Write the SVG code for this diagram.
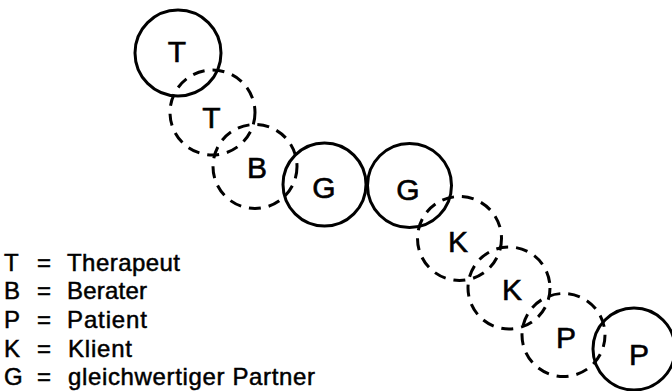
<svg xmlns="http://www.w3.org/2000/svg" width="672" height="391" viewBox="0 0 672 391">
<style>
.solid{fill:none;stroke:#000;stroke-width:3}
.dash{fill:none;stroke:#000;stroke-width:3;stroke-dasharray:12 8}
.lbl{font-family:"Liberation Sans",Arial,sans-serif;font-size:30px;text-anchor:middle;fill:#000;stroke:#000;stroke-width:0.6}
.leg{font-family:"Liberation Sans",Arial,sans-serif;font-size:24px;fill:#000;stroke:#000;stroke-width:0.5}
</style>
<rect width="672" height="391" fill="#fff"/>
<g id="connectors"></g>
<g id="T1"><circle class="solid" cx="178" cy="53" r="43"/><text class="lbl" x="177" y="62">T</text></g>
<g id="T2"><circle class="dash" cx="212.5" cy="112.5" r="42.5"/><text class="lbl" x="211.5" y="128">T</text></g>
<g id="B"><circle class="dash" cx="255" cy="166.5" r="42"/><text class="lbl" x="257" y="178">B</text></g>
<g id="G1"><circle class="solid" cx="324.5" cy="184.5" r="41.5"/><text class="lbl" x="324" y="198">G</text></g>
<g id="G2"><circle class="solid" cx="409.5" cy="185.5" r="42"/><text class="lbl" x="408" y="200">G</text></g>
<g id="K1"><circle class="dash" cx="459.5" cy="238.5" r="42"/><text class="lbl" x="458" y="252">K</text></g>
<g id="K2"><circle class="dash" cx="509" cy="288" r="41"/><text class="lbl" x="512" y="300">K</text></g>
<g id="P1"><circle class="dash" cx="563.5" cy="335" r="41.5"/><text class="lbl" x="566" y="348">P</text></g>
<g id="P2"><circle class="solid" cx="634" cy="349" r="41"/><text class="lbl" x="639" y="365">P</text></g>
<g id="legend">
<text class="leg" x="4" y="271">T</text><text class="leg" x="37" y="271">=</text><text class="leg" x="67" y="271" textLength="113" lengthAdjust="spacing">Therapeut</text>
<text class="leg" x="4" y="299">B</text><text class="leg" x="37" y="299">=</text><text class="leg" x="67" y="299" textLength="80" lengthAdjust="spacing">Berater</text>
<text class="leg" x="4" y="328">P</text><text class="leg" x="37" y="328">=</text><text class="leg" x="67" y="328" textLength="80" lengthAdjust="spacing">Patient</text>
<text class="leg" x="4" y="357">K</text><text class="leg" x="37" y="357">=</text><text class="leg" x="68" y="357" textLength="64" lengthAdjust="spacing">Klient</text>
<text class="leg" x="4" y="385">G</text><text class="leg" x="37" y="385">=</text><text class="leg" x="68" y="385" textLength="247" lengthAdjust="spacing">gleichwertiger Partner</text>
</g>
</svg>
